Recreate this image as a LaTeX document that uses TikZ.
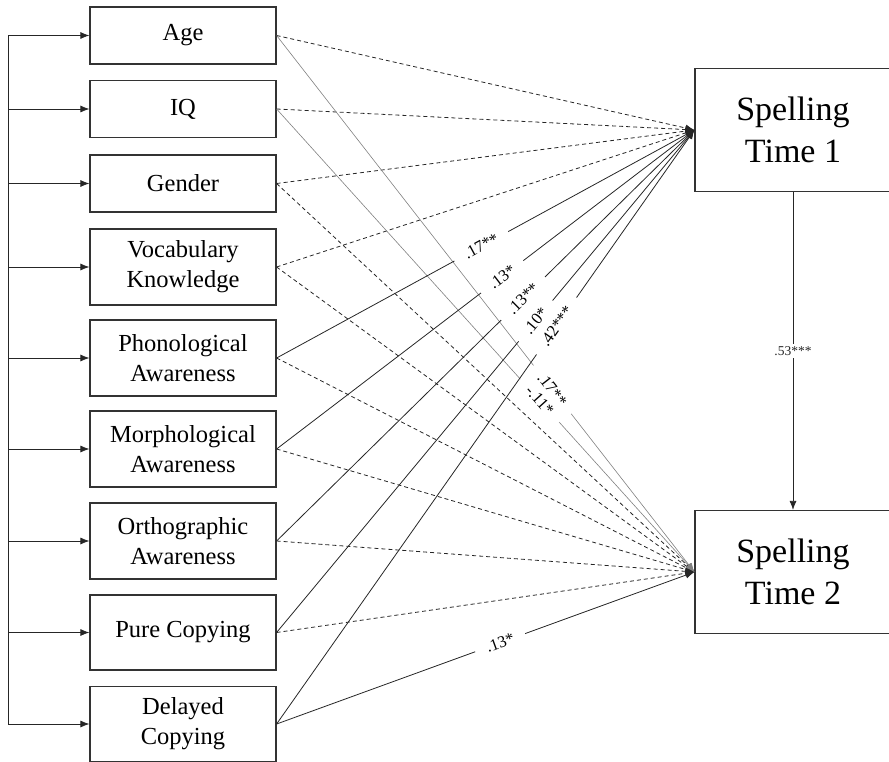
\documentclass[tikz,border=0pt]{standalone}
\usepackage{fontspec}
\setmainfont{Liberation Serif}
\usetikzlibrary{arrows.meta,positioning}

\tikzset{
  var/.style={draw=black!80, line width=1.2pt, minimum width=186pt, inner sep=0pt, align=center, font=\fontsize{24.5}{30}\selectfont},
  outcome/.style={draw=black!80, line width=1.2pt, minimum width=196pt, minimum height=123pt, align=center, font=\fontsize{34}{42}\selectfont},
  eff/.style={black!85, line width=0.8pt, -{Latex[length=9pt,width=7pt]}},
  nseff/.style={eff, dash pattern=on 4pt off 3pt},
  weak/.style={eff, black!50, line width=0.6pt},
  coef/.style={sloped, fill=white, inner xsep=12pt, inner ysep=1pt, text=black, font=\fontsize{16.5}{16.5}\selectfont}
}

\begin{document}
\begin{tikzpicture}[x=1pt,y=-1pt]
    \useasboundingbox (0,0) rectangle (889,762);

    % Preditores
    \node[var, minimum height=57pt] (age) at (183,35.5) {Age};
    \node[var, minimum height=57pt] (iq) at (183,109) {IQ};
    \node[var, minimum height=57pt] (gender) at (183,183.5) {Gender};
    \node[var, minimum height=76pt] (vocab) at (183,267) {Vocabulary\\Knowledge};
    \node[var, minimum height=76pt] (phon) at (183,358) {Phonological\\Awareness};
    \node[var, minimum height=76pt] (morph) at (183,449) {Morphological\\Awareness};
    \node[var, minimum height=76pt] (ortho) at (183,541) {Orthographic\\Awareness};
    \node[var, minimum height=75pt] (pure) at (183,632.5) {Pure Copying};
    \node[var, minimum height=75pt] (delayed) at (183,724) {Delayed\\Copying};

    % Desfechos
    \node[outcome] (t1) at (793,130) {Spelling\\Time 1};
    \node[outcome] (t2) at (793,572) {Spelling\\Time 2};

    % Correlacoes
    \coordinate (bus) at (8,0);
    \draw[black!85, line width=0.8pt] (bus |- age.west) -- (bus |- delayed.west);
    \foreach \v in {age,iq,gender,vocab,phon,morph,ortho,pure,delayed}
        \draw[eff] (bus |- \v.west) -- (\v.west);

    % Caminhos nao significativos
    \foreach \v in {age,iq,gender,vocab}
        \draw[nseff] (\v.east) -- (t1.west);
    \foreach \v in {gender,vocab,phon,morph,ortho,pure}
        \draw[nseff] (\v.east) -- (t2.west);

    % Caminhos significativos
    \draw[weak] (age.east) -- node[coef, pos=0.66] {.17**} (t2.west);
    \draw[weak] (iq.east) -- node[coef, pos=0.63] {-.11*} (t2.west);
    \draw[eff] (phon.east) -- node[coef, pos=0.49] {.17**} (t1.west);
    \draw[eff] (morph.east) -- node[coef, pos=0.54] {.13*} (t1.west);
    \draw[eff] (ortho.east) -- node[coef, pos=0.59] {.13**} (t1.west);
    \draw[eff] (pure.east) -- node[coef, pos=0.62] {.10*} (t1.west);
    \draw[eff] (delayed.east) -- node[coef, pos=0.67] {.42***} (t1.west);
    \draw[eff] (delayed.east) -- node[coef, pos=0.535] {.13*} (t2.west);

    % Estabilidade
    \draw[eff] (t1.south) -- node[fill=white, inner sep=2pt, font=\fontsize{13.5}{13.5}\selectfont] {.53***} (t2.north);
\end{tikzpicture}
\end{document}
